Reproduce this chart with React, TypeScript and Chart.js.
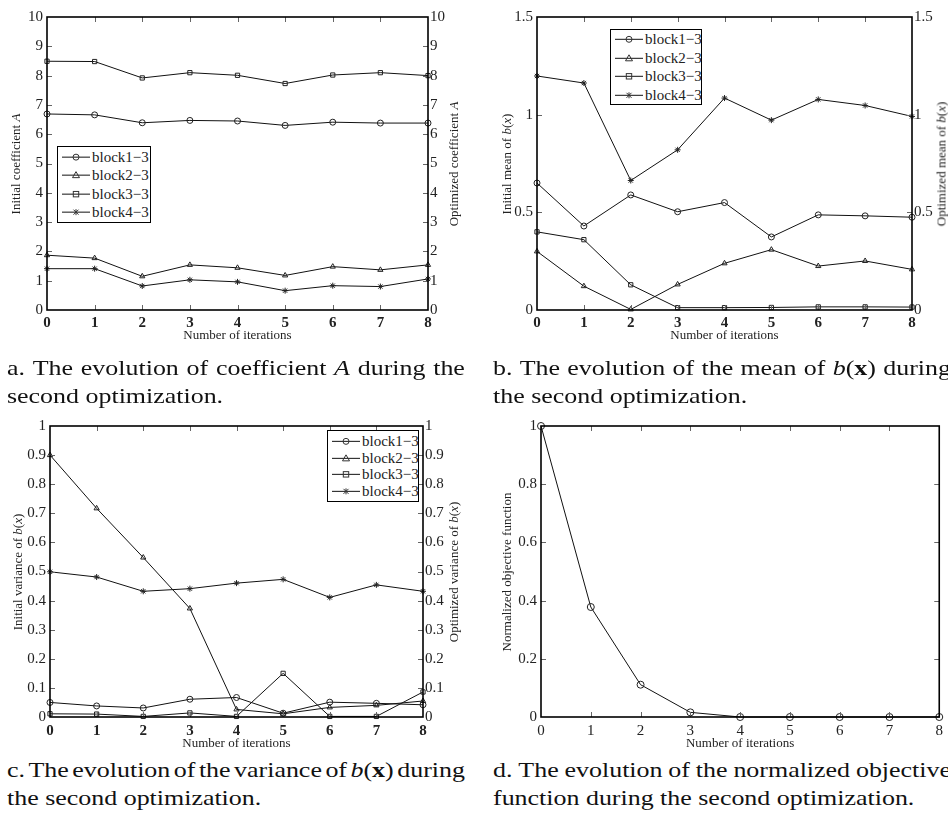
import React, { useEffect, useRef } from "react";
import { Chart, registerables } from "chart.js";

Chart.register(...registerables);

// ---------- data ----------
const iterations = ["0", "1", "2", "3", "4", "5", "6", "7", "8"];
const seriesNames = ["block1\u22123", "block2\u22123", "block3\u22123", "block4\u22123"];
const markerStyles = ["circle", "triangle", "rect", "star"];

// (a) coefficient A
const coefBlock1 = [6.69, 6.66, 6.39, 6.47, 6.45, 6.3, 6.41, 6.38, 6.38];
const coefBlock2 = [1.87, 1.77, 1.15, 1.54, 1.44, 1.18, 1.48, 1.37, 1.54];
const coefBlock3 = [8.49, 8.48, 7.92, 8.1, 8.01, 7.73, 8.02, 8.1, 8.0];
const coefBlock4 = [1.41, 1.41, 0.82, 1.03, 0.96, 0.66, 0.83, 0.8, 1.06];

// (b) mean of b(x)
const meanBlock1 = [0.65, 0.43, 0.589, 0.503, 0.55, 0.374, 0.487, 0.482, 0.475];
const meanBlock2 = [0.3, 0.122, 0.003, 0.131, 0.239, 0.309, 0.225, 0.251, 0.208];
const meanBlock3 = [0.4, 0.36, 0.129, 0.012, 0.012, 0.013, 0.016, 0.016, 0.015];
const meanBlock4 = [1.198, 1.162, 0.663, 0.82, 1.085, 0.972, 1.078, 1.047, 0.991];

// (c) variance of b(x)
const varBlock1 = [0.05, 0.038, 0.031, 0.061, 0.067, 0.013, 0.051, 0.047, 0.042];
const varBlock2 = [0.9, 0.717, 0.548, 0.373, 0.026, 0.011, 0.033, 0.04, 0.055];
const varBlock3 = [0.011, 0.01, 0.002, 0.014, 0.002, 0.15, 0.002, 0.002, 0.086];
const varBlock4 = [0.499, 0.481, 0.432, 0.441, 0.46, 0.473, 0.411, 0.454, 0.432];

// (d) normalized objective function
const objective = [1.0, 0.378, 0.111, 0.016, 0.0, 0.0, 0.0, 0.0, 0.0];

// ---------- styling ----------
const FONT = "'Liberation Serif', 'Times New Roman', serif";
const TEXT = "#222";

const boxPlugin = {
  id: "matlabBox",
  afterDatasetsDraw(chart: any) {
    const { ctx, chartArea } = chart;
    const { left, right, top, bottom } = chartArea;
    const xs = chart.scales.x;
    const ys = chart.scales.y;
    const L = 5;
    ctx.save();
    ctx.strokeStyle = "#666";
    ctx.lineWidth = 1;
    ctx.beginPath();
    xs.ticks.forEach((_t: any, i: number) => {
      const px = Math.round(xs.getPixelForTick(i)) + 0.5;
      if (px <= left + 1 || px >= right - 1) return;
      ctx.moveTo(px, bottom);
      ctx.lineTo(px, bottom - L);
      ctx.moveTo(px, top);
      ctx.lineTo(px, top + L);
    });
    ys.ticks.forEach((_t: any, i: number) => {
      const py = Math.round(ys.getPixelForTick(i)) + 0.5;
      if (py <= top + 1 || py >= bottom - 1) return;
      ctx.moveTo(left, py);
      ctx.lineTo(left + L, py);
      ctx.moveTo(right, py);
      ctx.lineTo(right - L, py);
    });
    ctx.stroke();
    ctx.strokeStyle = "#000";
    ctx.lineWidth = 1.6;
    ctx.strokeRect(left, top, right - left, bottom - top);
    ctx.restore();
  },
};

const fmt = (v: any) => String(Math.round(Number(v) * 100) / 100);

type PanelSpec = {
  series: number[][];
  names: string[];
  styles: string[];
  yMin: number;
  yMax: number;
  yStep: number;
  rightAxis: boolean;
  padTop: number;
  padRight: number;
  yWidth: number;
  y2Width: number;
  xHeight: number;
  xTickPad: number;
  xTitlePad: number;
  boldX: boolean;
  radius: number;
};

function makeConfig(p: PanelSpec): any {
  const datasets = p.series.map((data, i) => ({
    label: p.names[i],
    data,
    borderColor: "#111",
    borderWidth: 1,
    pointStyle: p.styles[i],
    pointRadius: p.radius,
    pointBorderColor: "#222",
    pointBackgroundColor: "rgba(0,0,0,0)",
    pointBorderWidth: 1,
    tension: 0,
    clip: false,
    yAxisID: "y",
  }));
  const scales: any = {
    x: {
      type: "category",
      offset: false,
      grid: { display: false, drawTicks: false },
      border: { display: false },
      ticks: {
        padding: p.xTickPad,
        color: TEXT,
        maxRotation: 0,
        autoSkip: false,
        font: { family: FONT, size: 15, weight: p.boldX ? "bold" : "normal" },
      },
      title: {
        display: true,
        text: "Number of iterations",
        color: TEXT,
        font: { family: FONT, size: 13 },
        padding: { top: 0, bottom: p.xTitlePad },
      },
      afterFit: (s: any) => {
        s.height = p.xHeight;
      },
    },
    y: {
      type: "linear",
      position: "left",
      min: p.yMin,
      max: p.yMax,
      grid: { display: false, drawTicks: false },
      border: { display: false },
      ticks: {
        stepSize: p.yStep,
        padding: 4,
        color: TEXT,
        font: { family: FONT, size: 15 },
        callback: fmt,
      },
      afterFit: (s: any) => {
        s.width = p.yWidth;
      },
    },
  };
  if (p.rightAxis) {
    scales.y2 = {
      type: "linear",
      position: "right",
      min: p.yMin,
      max: p.yMax,
      grid: { display: false, drawTicks: false },
      border: { display: false },
      ticks: {
        stepSize: p.yStep,
        padding: 2,
        color: TEXT,
        font: { family: FONT, size: 15 },
        callback: fmt,
      },
      afterFit: (s: any) => {
        s.width = p.y2Width;
      },
    };
  }
  return {
    type: "line",
    data: { labels: iterations, datasets },
    options: {
      responsive: false,
      animation: false,
      devicePixelRatio: 1,
      layout: { padding: { top: p.padTop, right: p.padRight, left: 0, bottom: 0 } },
      plugins: { legend: { display: false }, tooltip: { enabled: false } },
      scales,
    },
    plugins: [boxPlugin],
  };
}

function ChartPanel({ left, top, width, height, spec }: { left: number; top: number; width: number; height: number; spec: PanelSpec }) {
  const ref = useRef<HTMLCanvasElement | null>(null);
  useEffect(() => {
    if (!ref.current) return;
    const chart = new Chart(ref.current, makeConfig(spec));
    return () => chart.destroy();
  }, [spec]);
  return (
    <canvas
      ref={ref}
      width={width}
      height={height}
      style={{ position: "absolute", left, top, width, height }}
    />
  );
}

function Marker({ kind, cx, cy }: { kind: string; cx: number; cy: number }) {
  const s = "#333";
  if (kind === "circle") return <circle cx={cx} cy={cy} r={3} fill="none" stroke={s} strokeWidth={1} />;
  if (kind === "triangle")
    return <polygon points={`${cx},${cy - 3.5} ${cx - 3.5},${cy + 2.5} ${cx + 3.5},${cy + 2.5}`} fill="none" stroke={s} strokeWidth={1} />;
  if (kind === "rect") return <rect x={cx - 2.7} y={cy - 2.7} width={5.4} height={5.4} fill="none" stroke={s} strokeWidth={1} />;
  return (
    <g stroke={s} strokeWidth={1}>
      <line x1={cx - 2.5} y1={cy - 2.5} x2={cx + 2.5} y2={cy + 2.5} />
      <line x1={cx - 2.5} y1={cy + 2.5} x2={cx + 2.5} y2={cy - 2.5} />
      <line x1={cx} y1={cy - 3} x2={cx} y2={cy + 3} />
    </g>
  );
}

function LegendBox({ left, top, width, height, rowHeight, padTop }: { left: number; top: number; width: number; height: number; rowHeight: number; padTop: number }) {
  return (
    <div
      style={{
        position: "absolute",
        left,
        top,
        width,
        height,
        boxSizing: "border-box",
        border: "1.5px solid #000",
        background: "#fff",
        paddingTop: padTop,
      }}
    >
      {seriesNames.map((n, i) => (
        <div key={n} style={{ display: "flex", alignItems: "center", height: rowHeight }}>
          <svg width={34} height={rowHeight} style={{ display: "block", flex: "none" }}>
            <line x1={4} y1={rowHeight / 2} x2={32} y2={rowHeight / 2} stroke="#111" strokeWidth={1} />
            <Marker kind={markerStyles[i]} cx={18} cy={rowHeight / 2} />
          </svg>
          <span style={{ font: `15px ${FONT}`, color: TEXT, whiteSpace: "nowrap", lineHeight: `${rowHeight}px` }}>{n}</span>
        </div>
      ))}
    </div>
  );
}

function AxisTitle({ cx, cy, children }: { cx: number; cy: number; children: React.ReactNode }) {
  return (
    <div
      style={{
        position: "absolute",
        left: cx,
        top: cy,
        transform: "translate(-50%, -50%) rotate(-90deg)",
        font: `13px ${FONT}`,
        color: TEXT,
        whiteSpace: "nowrap",
        lineHeight: "15px",
      }}
    >
      {children}
    </div>
  );
}

const specA: PanelSpec = {
  series: [coefBlock1, coefBlock2, coefBlock3, coefBlock4],
  names: seriesNames,
  styles: markerStyles,
  yMin: 0,
  yMax: 10,
  yStep: 1,
  rightAxis: true,
  padTop: 17,
  padRight: 0,
  yWidth: 47,
  y2Width: 46,
  xHeight: 35,
  xTickPad: 4,
  xTitlePad: 2,
  boldX: true,
  radius: 3,
};

const specB: PanelSpec = {
  ...specA,
  series: [meanBlock1, meanBlock2, meanBlock3, meanBlock4],
  yMin: 0,
  yMax: 1.5,
  yStep: 0.5,
  yWidth: 63,
  y2Width: 36,
};

const specC: PanelSpec = {
  ...specA,
  series: [varBlock1, varBlock2, varBlock3, varBlock4],
  yMin: 0,
  yMax: 1,
  yStep: 0.1,
  padTop: 16,
  yWidth: 50,
  y2Width: 51,
  xHeight: 38,
  xTickPad: 5,
  xTitlePad: 4,
};

const specD: PanelSpec = {
  ...specA,
  series: [objective],
  names: ["Normalized objective function"],
  styles: ["circle"],
  yMin: 0,
  yMax: 1,
  yStep: 0.2,
  rightAxis: false,
  padTop: 16,
  padRight: 3,
  yWidth: 67,
  y2Width: 0,
  xHeight: 38,
  xTickPad: 5,
  xTitlePad: 4,
  boldX: false,
  radius: 3.5,
};

const CAP_SCALE = 1.235;
const CAP_WIDTH = 458;

function Caption({ left, top, words, line2 }: { left: number; top: number; words: React.ReactNode[]; line2: string }) {
  return (
    <div
      style={{
        position: "absolute",
        left,
        top,
        font: `21px ${FONT}`,
        color: "#111",
        lineHeight: "28px",
        transform: `scaleX(${CAP_SCALE})`,
        transformOrigin: "left top",
      }}
    >
      <div style={{ width: CAP_WIDTH / CAP_SCALE, display: "flex", justifyContent: "space-between", whiteSpace: "nowrap" }}>
        {words.map((w, i) => (
          <span key={i} style={{ flex: "none" }}>
            {w}
          </span>
        ))}
      </div>
      <div style={{ whiteSpace: "nowrap" }}>{line2}</div>
    </div>
  );
}

const bx = (
  <>
    <i>b</i>(<b>x</b>)
  </>
);
const bxAxis = (
  <>
    <i>b</i>(<i>x</i>)
  </>
);

export default function App() {
  return (
    <div
      style={{
        position: "absolute",
        left: 0,
        top: 0,
        width: 948,
        height: 817,
        overflow: "hidden",
        background: "#fff",
      }}
    >
      <ChartPanel left={0} top={0} width={474} height={345} spec={specA} />
      <ChartPanel left={474} top={0} width={474} height={345} spec={specB} />
      <ChartPanel left={0} top={410} width={474} height={345} spec={specC} />
      <ChartPanel left={474} top={410} width={474} height={345} spec={specD} />

      <AxisTitle cx={15} cy={164}>
        Initial coefficient <i>A</i>
      </AxisTitle>
      <AxisTitle cx={453} cy={164}>
        Optimized coefficient <i>A</i>
      </AxisTitle>
      <AxisTitle cx={506} cy={164}>
        Initial mean of {bxAxis}
      </AxisTitle>
      <AxisTitle cx={941} cy={164}>
        Optimized mean of {bxAxis}
      </AxisTitle>
      <AxisTitle cx={17} cy={572}>
        Initial variance of {bxAxis}
      </AxisTitle>
      <AxisTitle cx={453} cy={572}>
        Optimized variance of {bxAxis}
      </AxisTitle>
      <AxisTitle cx={506} cy={572}>
        Normalized objective function
      </AxisTitle>

      <LegendBox left={57} top={146} width={94} height={77} rowHeight={18.3} padTop={1} />
      <LegendBox left={610} top={29} width={92} height={76} rowHeight={18.6} padTop={0} />
      <LegendBox left={327} top={430} width={92} height={72} rowHeight={16.7} padTop={2} />

      <Caption
        left={7}
        top={354}
        words={["a.", "The", "evolution", "of", "coefficient", <i>A</i>, "during", "the"]}
        line2="second optimization."
      />
      <Caption
        left={493}
        top={354}
        words={["b.", "The", "evolution", "of", "the", "mean", "of", bx, "during"]}
        line2="the second optimization."
      />
      <Caption
        left={7}
        top={756}
        words={["c.", "The", "evolution", "of", "the", "variance", "of", bx, "during"]}
        line2="the second optimization."
      />
      <Caption
        left={493}
        top={756}
        words={["d.", "The", "evolution", "of", "the", "normalized", "objective"]}
        line2="function during the second optimization."
      />
    </div>
  );
}
